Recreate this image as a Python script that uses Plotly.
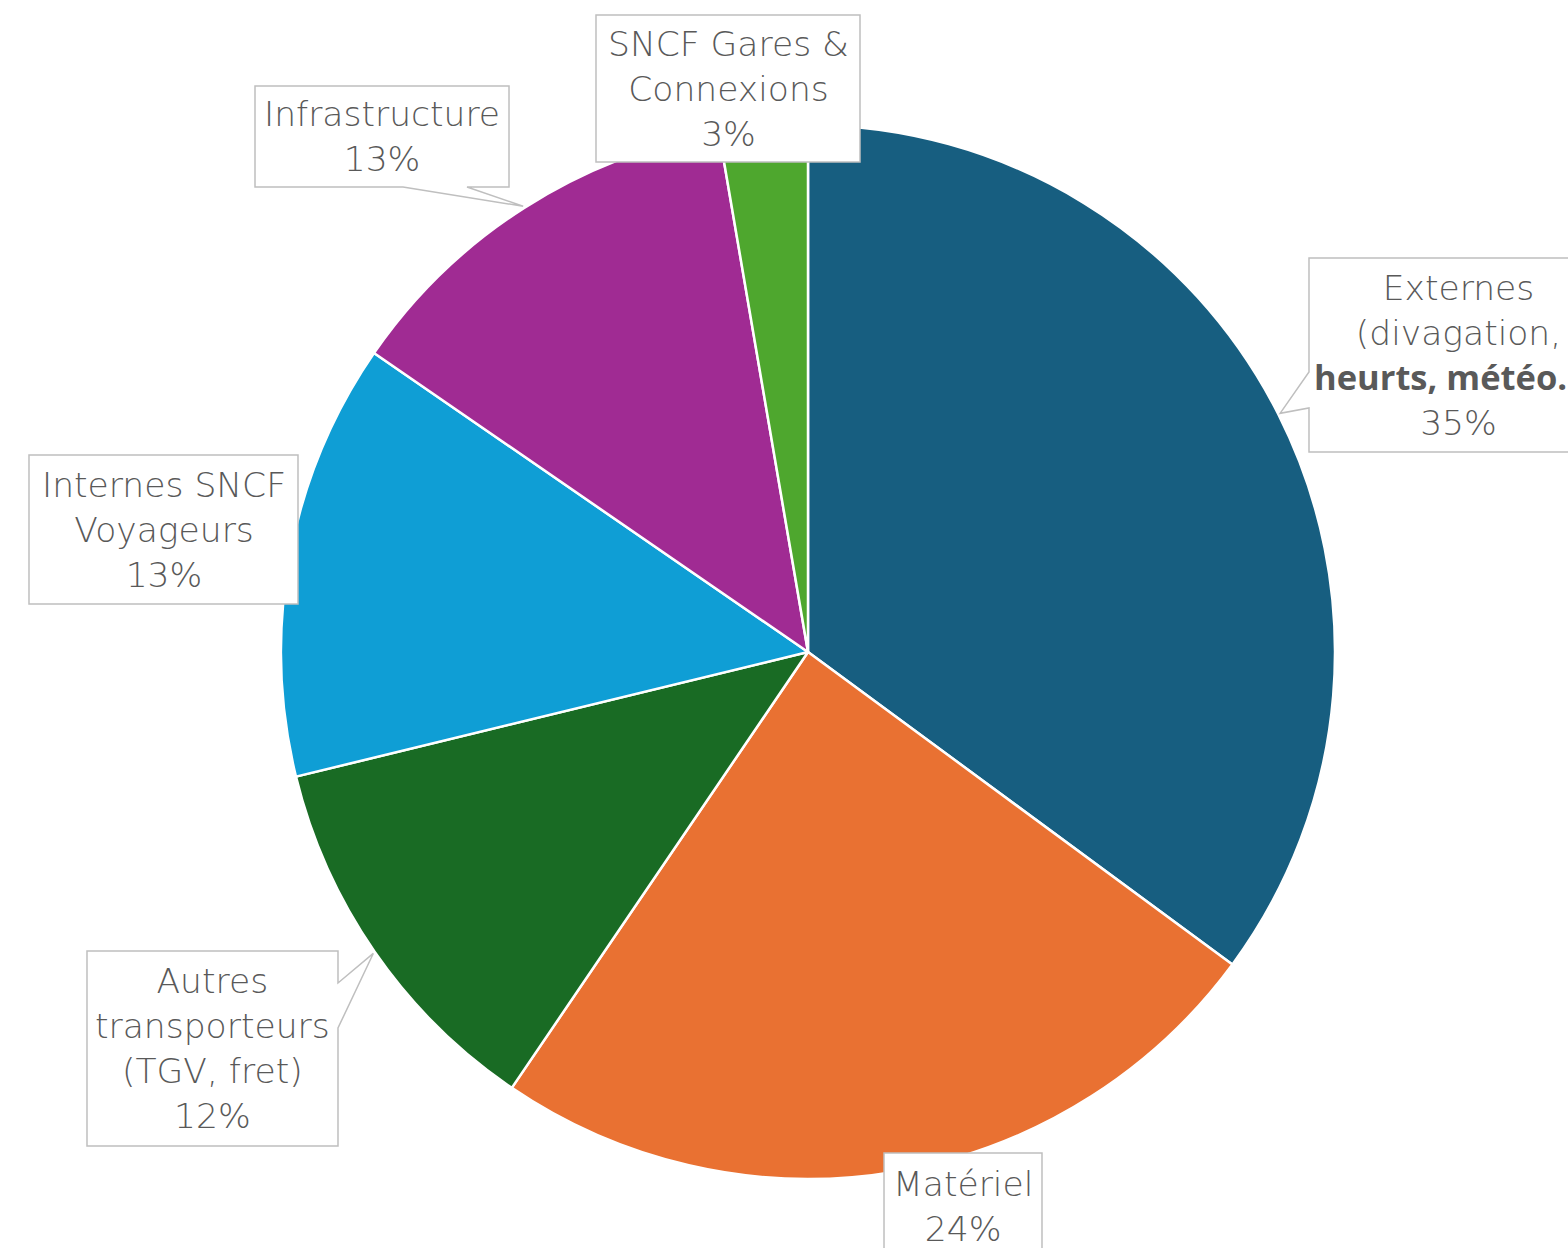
import math
import plotly.graph_objects as go

# ---- data ----
categories = [
    "Externes (divagation, heurts, météo.",
    "Matériel",
    "Autres transporteurs (TGV, fret)",
    "Internes SNCF Voyageurs",
    "Infrastructure",
    "SNCF Gares & Connexions",
]
label_texts = [
    "Externes<br>(divagation,<br><span style=\"font-family:'Open Sans';font-weight:700\">heurts, météo.&nbsp;&nbsp;&nbsp;&nbsp;</span>",
    "Matériel",
    "Autres<br>transporteurs<br>(TGV, fret)",
    "Internes SNCF<br>Voyageurs",
    "Infrastructure",
    "SNCF Gares &<br>Connexions",
]
values = [35.1, 24.4, 11.7, 13.4, 12.7, 2.7]
colors = ["#175E80", "#E97132", "#196B24", "#0F9ED5", "#A02B93", "#4EA72E"]

W, H = 1568, 1248
CX, CY, R = 808, 652, 527  # pie centre / radius in px

fig = go.Figure(go.Pie(
    labels=categories,
    values=values,
    sort=False,
    direction="clockwise",
    rotation=0,
    textinfo="none",
    hoverinfo="label+percent",
    marker=dict(colors=colors, line=dict(color="white", width=2.5)),
    showlegend=False,
    domain=dict(x=[(CX - R) / W, (CX + R) / W],
                y=[(H - CY - R) / H, (H - CY + R) / H]),
))

# callout boxes (px: x0, y0, x1, y1) and wedge opening (side, a, b) or None
boxes = [
    dict(box=(1309, 258, 1607, 452), wedge=("left", 372, 408)),
    dict(box=(884, 1153, 1042, 1260), wedge=None),
    dict(box=(87, 951, 338, 1146), wedge=("right", 983, 1028)),
    dict(box=(29, 455, 298, 604), wedge=None),
    dict(box=(255, 86, 509, 187), wedge=("bottom", 403, 467)),
    dict(box=(596, 15, 860, 162), wedge=None),
]


def P(x, y):
    return f"{x / W:.5f},{1 - y / H:.5f}"


total = sum(values)
cum = 0.0
annotations = []
shapes = []
for txt, v, b in zip(label_texts, values, boxes):
    mid = (cum + v / 2) / total * 2 * math.pi
    cum += v
    pct = f"{round(v / total * 100)}%"
    x0, y0, x1, y1 = b["box"]
    pts = [(x0, y0), (x1, y0), (x1, y1), (x0, y1)]
    if b["wedge"]:
        tx = CX + (R + 2) * math.sin(mid)
        ty = CY - (R + 2) * math.cos(mid)
        side, a, c = b["wedge"]
        if side == "left":
            pts = [(x0, y0), (x1, y0), (x1, y1), (x0, y1), (x0, c), (tx, ty), (x0, a)]
        elif side == "right":
            pts = [(x0, y0), (x1, y0), (x1, a), (tx, ty), (x1, c), (x1, y1), (x0, y1)]
        elif side == "bottom":
            pts = [(x0, y0), (x1, y0), (x1, y1), (c, y1), (tx, ty), (a, y1), (x0, y1)]
    path = "M " + " L ".join(P(px, py) for px, py in pts) + " Z"
    shapes.append(dict(type="path", path=path, xref="paper", yref="paper",
                       fillcolor="white", line=dict(color="#BFBFBF", width=1.5),
                       layer="above"))
    annotations.append(dict(
        text=f"{txt}<br>{pct}", xref="paper", yref="paper",
        x=(x0 + x1) / 2 / W, y=1 - (y0 + y1) / 2 / H,
        xanchor="center", yanchor="middle", showarrow=False, align="center",
        font=dict(family="DejaVu Sans, Open Sans, sans-serif", size=34.5,
                  color="#595959", weight=200),
    ))

fig.update_layout(
    width=W, height=H,
    margin=dict(l=0, r=0, t=0, b=0),
    paper_bgcolor="white", plot_bgcolor="white",
    annotations=annotations,
    shapes=shapes,
)

fig.write_html("out.html", config={"displayModeBar": False},
               post_script="document.body.style.margin='0';")
